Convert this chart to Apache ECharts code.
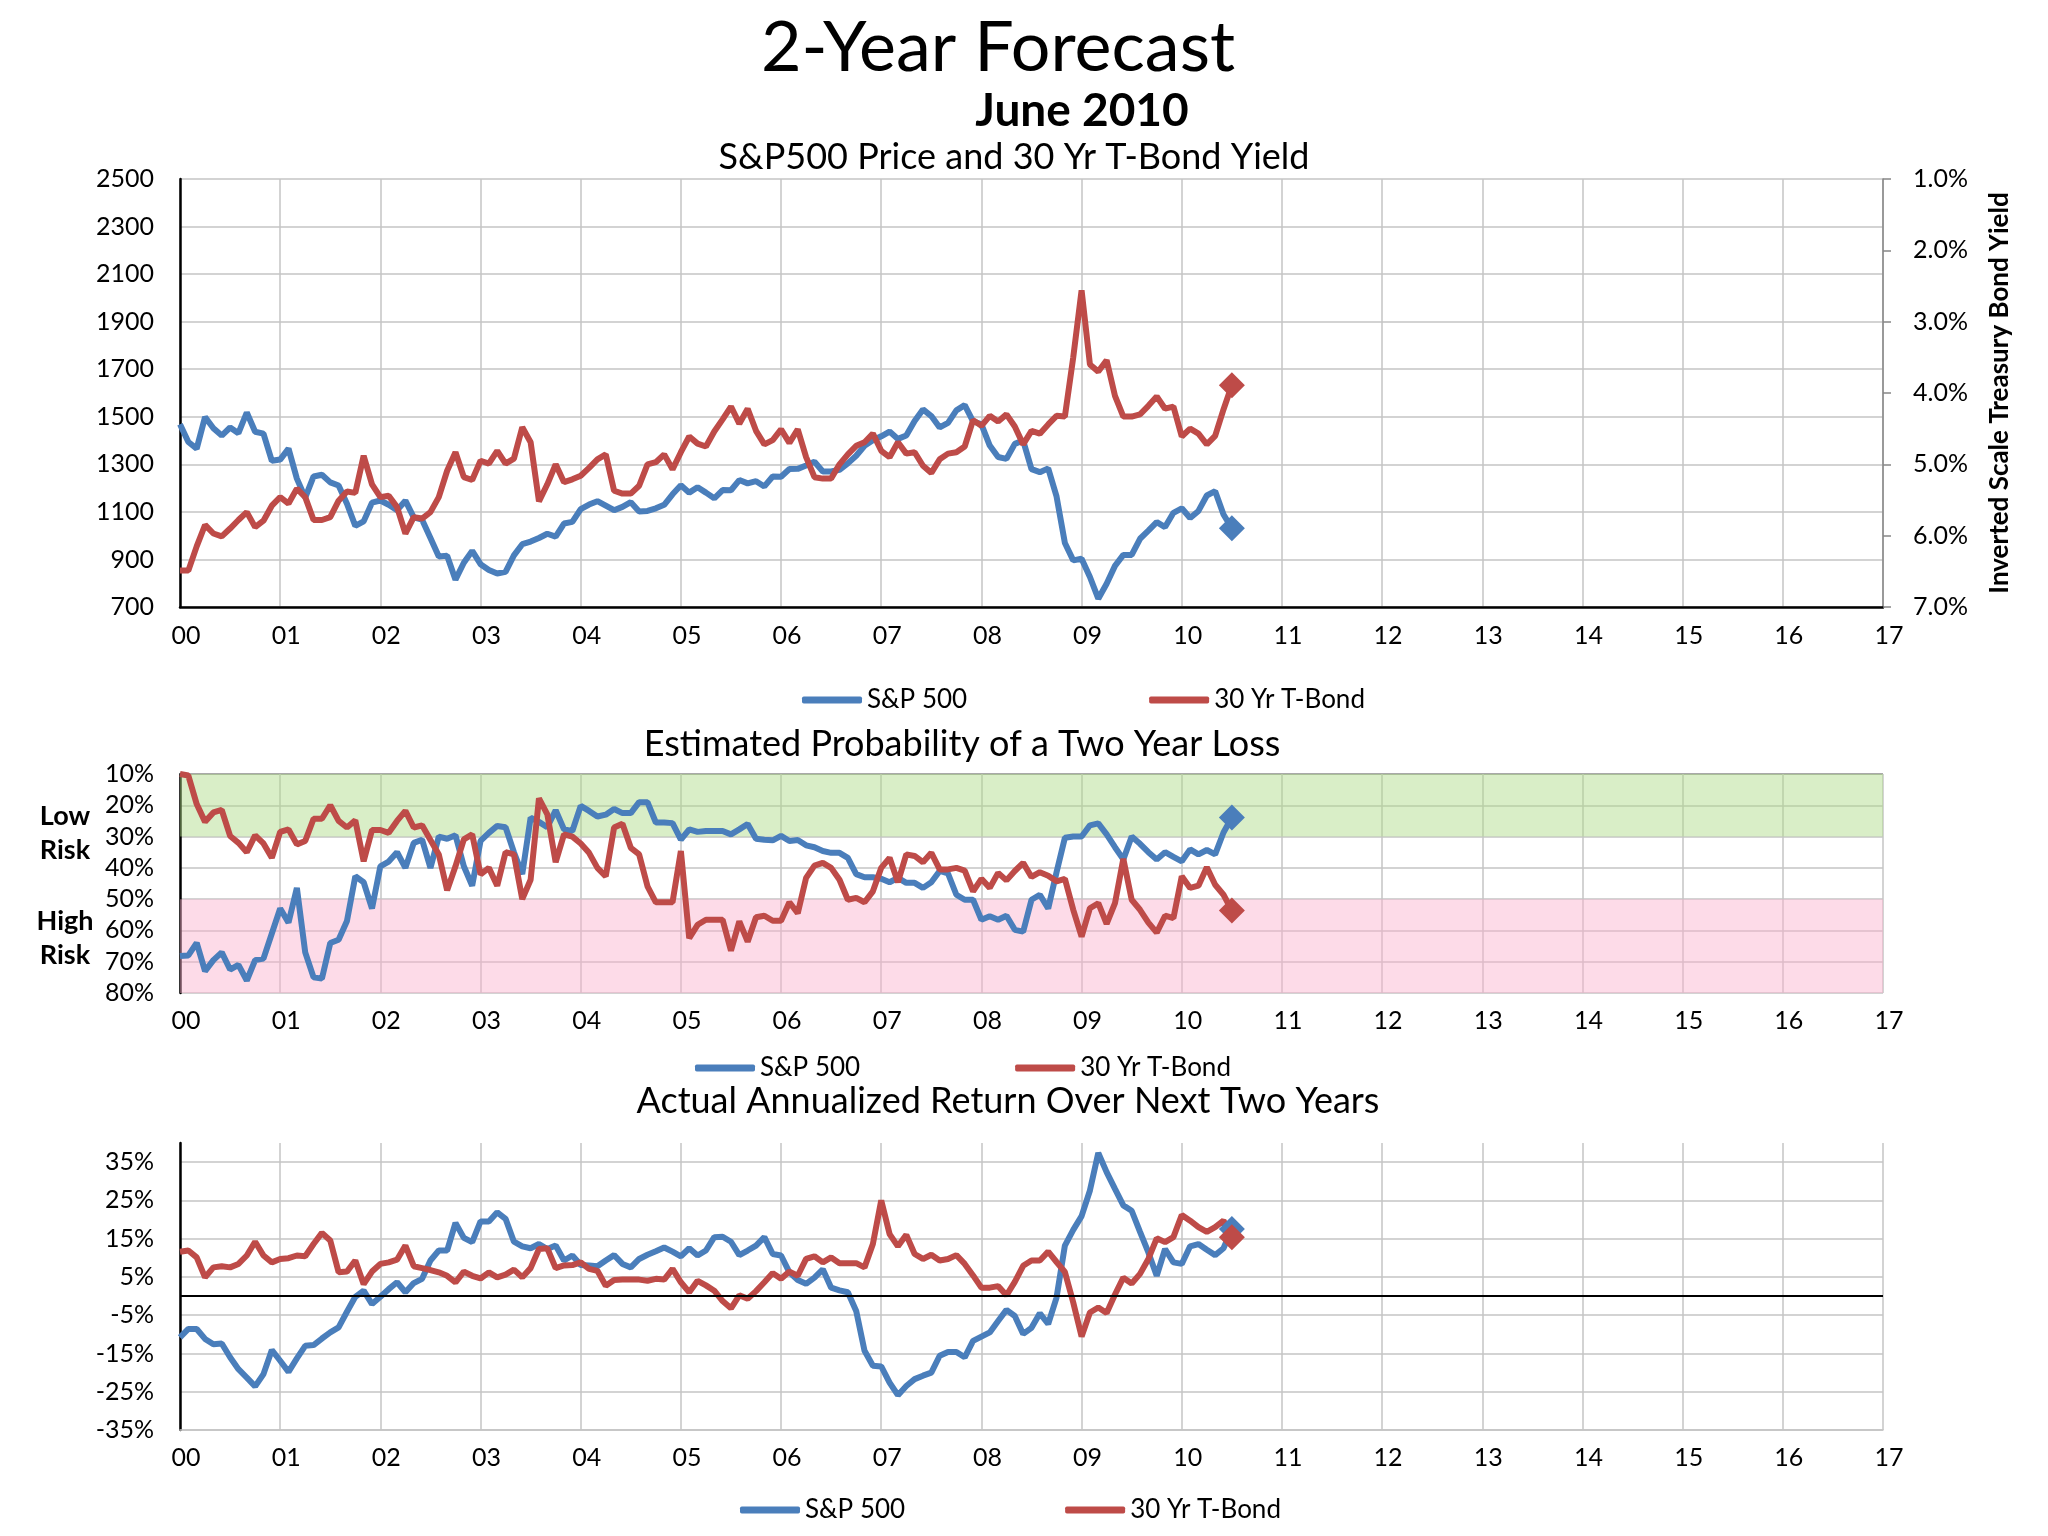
<!DOCTYPE html>
<html><head><meta charset="utf-8">
<script src="https://cdn.jsdelivr.net/npm/echarts@6/dist/echarts.min.js"></script>
<style>html,body{margin:0;padding:0;background:#fff}#c{width:2048px;height:1536px}</style>
</head><body><div id="c"></div>
<script>
// x tick labels (years 2000..2017)
const yearLabels = ['00','01','02','03','04','05','06','07','08','09','10','11','12','13','14','15','16','17'];
// monthly values, index 0 = start of 2000 (Dec-1999 close) ... index 126 = June 2010
const spxPrice = [1469,1394,1366,1499,1452,1421,1455,1431,1518,1437,1429,1315,1320,
1366,1240,1160,1249,1256,1224,1211,1134,1041,1060,1139,1148,
1130,1107,1147,1077,1067,990,912,916,815,886,936,880,
856,841,848,917,964,975,990,1008,996,1051,1058,1112,
1131,1145,1126,1107,1121,1141,1102,1104,1115,1130,1174,1212,
1181,1204,1181,1157,1192,1191,1234,1220,1229,1207,1249,1248,
1280,1281,1295,1311,1270,1270,1277,1304,1336,1378,1401,1418,
1438,1407,1421,1482,1531,1503,1455,1474,1527,1549,1481,1468,
1379,1331,1323,1386,1400,1280,1267,1283,1165,969,896,903,
826,735,798,873,919,919,987,1021,1057,1036,1096,1115,
1074,1104,1169,1187,1089,1031];
const bondYield = [6.49,6.49,6.15,5.85,5.97,6.01,5.90,5.78,5.67,5.88,5.79,5.58,5.46,
5.55,5.34,5.46,5.78,5.78,5.74,5.51,5.38,5.40,4.88,5.28,5.46,
5.44,5.60,5.97,5.74,5.76,5.67,5.46,5.09,4.83,5.18,5.22,4.95,
4.99,4.81,4.99,4.92,4.48,4.69,5.52,5.28,5.00,5.25,5.21,5.16,
5.05,4.93,4.86,5.37,5.41,5.41,5.30,5.00,4.97,4.86,5.07,4.83,
4.61,4.71,4.75,4.54,4.37,4.19,4.43,4.22,4.53,4.72,4.66,4.51,
4.70,4.51,4.90,5.18,5.20,5.20,5.00,4.86,4.74,4.69,4.57,4.81,
4.90,4.69,4.85,4.83,5.02,5.12,4.93,4.85,4.83,4.75,4.38,4.46,
4.32,4.40,4.30,4.47,4.72,4.53,4.57,4.44,4.32,4.33,3.50,2.56,
3.60,3.70,3.54,4.04,4.33,4.33,4.30,4.18,4.05,4.22,4.19,4.61,
4.50,4.57,4.72,4.60,4.23,3.89];
const spxLossProb = [68.2,68,64,73,69.5,67,72.5,71,76,69.5,69,61,53,
57.5,46.4,67,75,75.4,64,63,57,42.7,44.6,53,39.5,
38,35,40,32,31,40,30,30.7,29.6,39.5,45.7,31.4,
28.8,26.6,27,35,42,24,25.3,27,21.6,27.7,28.2,20.2,
21.8,23.6,23,21.2,22.5,22.5,19,19,25.5,25.5,25.7,31,
27.7,28.5,28.2,28.2,28.2,29.3,27.7,26,30.7,31,31.2,29.8,
31.4,31.1,32.8,33.4,34.6,35.2,35.2,36.8,42,43,43,43.5,
44.6,43.2,44.8,44.8,46.4,44.6,41,41.8,48.6,50.2,50.2,56.6,
55.5,56.6,55.3,59.8,60.4,50.2,48.6,53,41.4,30.4,30,30,
26.4,25.8,29.3,33.4,37.3,30,32.3,35,37.3,35,36.5,37.9,
34.1,35.7,34.3,35.7,28.7,23.9];
const bondLossProb = [10,10.5,19.6,25.3,22.3,21.5,29.8,32,35,29.6,32.2,36.8,28.5,
27.7,32.5,31.4,24.3,24.3,20,25,27.1,24.8,37.9,27.9,27.9,
28.8,25,21.8,27.1,26.4,31.1,35.7,47.2,39.5,30.9,29.3,42.1,
40,45.7,35,35.7,50,43.8,17.8,22.9,38.2,29.3,30,32.2,
35.2,40,42.7,27.1,25.9,33.6,35.7,45.9,51,51,51,34.6,
62.5,58.2,56.6,56.6,56.6,66.5,57.1,63.6,55.8,55.3,56.9,56.9,
51,54.5,43.2,39.3,38.4,40,43.8,50.2,49.6,51,47.5,40,
36.8,44.6,35.7,36.2,38.2,35.2,40.5,40.5,40,40.9,47.5,43.5,
46.4,41.6,44,41,38.4,42.9,41.4,42.5,44.3,43.5,53.4,62,
52.9,51.3,57.9,51.3,37.1,50.2,53.4,57.5,60.7,55.3,56.1,42.7,
46.4,45.7,39.8,45.4,48.6,53.6];
const spxReturn = [-10.8,-8.6,-8.6,-11.2,-12.6,-12.4,-16,-19.1,-21.3,-23.6,-20.4,-14.1,-16.9,
-19.8,-16.3,-13,-12.8,-11.1,-9.5,-8.2,-4.1,-0.2,1.4,-2.1,-0.2,
1.8,3.6,1,3.4,4.5,9.3,11.9,11.9,19.1,15.2,14.1,19.5,
19.5,21.9,20.2,14.2,13,12.5,13.6,12.3,13.2,9.3,10.6,8.1,
8,7.8,9.3,10.7,8.4,7.5,9.7,10.8,11.7,12.7,11.6,10.4,
12.5,10.6,11.9,15.4,15.5,14.2,10.7,11.9,13.2,15.4,11,10.6,
6.2,4.2,3.2,4.8,7,2.2,1.5,1,-3.9,-14.3,-18.2,-18.4,
-22.6,-25.9,-23.5,-21.7,-20.8,-20,-15.6,-14.6,-14.6,-16,-11.7,-10.6,
-9.5,-6.5,-3.6,-5.2,-9.9,-8.3,-4.5,-7.3,-0.4,13.2,17.3,20.9,
27.6,37.4,32.4,28,23.7,22.3,16.8,11.4,5.3,12.3,8.8,8.4,
13,13.6,12.1,10.7,12.5,17.5];
const bondReturn = [11.6,11.9,10.1,4.9,7.5,7.8,7.5,8.4,10.6,14.2,10.6,8.8,9.7,
9.9,10.6,10.4,13.6,16.5,14.5,6.2,6.4,9.3,3.1,6.4,8.4,
8.8,9.5,13.2,7.8,7.3,6.8,6.2,5.3,3.6,6.4,5.3,4.6,
6.2,4.9,5.6,6.9,4.9,7.3,12.3,12.5,7.3,8,8.1,8.8,
7.1,6.6,2.7,4.2,4.3,4.3,4.3,4,4.5,4.3,7.1,3.6,
1,4,2.8,1.4,-1.3,-3.2,0.2,-0.7,1.3,3.6,6,4.5,
6.4,5.3,9.7,10.4,8.8,10.1,8.6,8.6,8.6,7.5,13.6,25,
16.2,13,16,11,9.7,10.8,9.3,9.7,10.7,8.4,5.4,2.2,
2.2,2.6,0.2,3.7,7.9,9.3,9.3,11.6,8.9,6.3,-1.7,-10.6,
-4.3,-3,-4.4,0.4,4.8,3.3,5.8,9.7,15.1,14.1,15.4,21.2,
19.7,18,16.8,18,19.7,15.4];
const seriesNames = ['S&P 500', '30 Yr T-Bond'];

const FONT = 'Lato';
const BLUE = '#4a7ebb', RED = '#be4b48', GRID = '#c4c4c4';
const toPts = arr => arr.map((v, i) => [i / 12, v]);
const endDiamond = n => (val, p) => (p.dataIndex === n - 1 ? 26 : 0);

function line(name, arr, color, xi, yi, extra) {
  return Object.assign({
    type: 'line', name: name, xAxisIndex: xi, yAxisIndex: yi,
    data: toPts(arr), showSymbol: true, showAllSymbol: true,
    symbol: 'diamond', symbolSize: endDiamond(arr.length),
    lineStyle: { color: color, width: 6 }, itemStyle: { color: color },
    emphasis: { disabled: true }, animation: false
  }, extra || {});
}

function xAxis(gi, margin, axisLine) {
  return {
    type: 'value', gridIndex: gi, min: 0, max: 17, interval: 1,
    axisLabel: { formatter: v => yearLabels[Math.round(v)], fontFamily: FONT, fontSize: 25, color: '#000', margin: margin, padding: [0, 0, 0, 12] },
    axisTick: { show: false },
    axisLine: axisLine,
    splitLine: { show: true, lineStyle: { color: GRID, width: 1.5 } }
  };
}
const yLab = { fontFamily: FONT, fontSize: 25, color: '#000', margin: 26 };

const legendBase = { icon: 'roundRect', itemWidth: 60, itemHeight: 7, textStyle: { fontFamily: FONT, fontSize: 26, color: '#000' }, data: seriesNames, selectedMode: false };
const titleStyle = { fontFamily: FONT, fontSize: 36, fontWeight: 'normal', color: '#000' };

const option = {
  backgroundColor: '#fff',
  animation: false,
  title: [
    { text: '2-Year Forecast', left: 993, top: 8, textAlign: 'center', textStyle: { fontFamily: FONT, fontSize: 70, fontWeight: 'normal', color: '#000' } },
    { text: 'June 2010', left: 1077, top: 83, textAlign: 'center', textStyle: { fontFamily: FONT, fontSize: 46, fontWeight: 'bold', color: '#000' } },
    { text: 'S&P500 Price and 30 Yr T-Bond Yield', left: 1009, top: 134, textAlign: 'center', textStyle: titleStyle },
    { text: 'Estimated Probability of a Two Year Loss', left: 957, top: 721, textAlign: 'center', textStyle: titleStyle },
    { text: 'Actual Annualized Return Over Next Two Years', left: 1003, top: 1078, textAlign: 'center', textStyle: titleStyle }
  ],
  legend: [
    Object.assign({ left: 797, top: 682, itemGap: 182 }, legendBase),
    Object.assign({ left: 690, top: 1050, itemGap: 155 }, legendBase),
    Object.assign({ left: 735, top: 1492, itemGap: 160 }, legendBase)
  ],
  grid: [
    { left: 180, right: 165, top: 179, height: 428 },
    { left: 180, right: 165, top: 774, height: 219 },
    { left: 180, right: 165, top: 1143, height: 287 }
  ],
  xAxis: [
    xAxis(0, 16, { show: true, onZero: false, lineStyle: { color: '#000', width: 2.5 } }),
    xAxis(1, 15, { show: false }),
    xAxis(2, 15, { show: true, onZero: false, lineStyle: { color: GRID, width: 1.5 } })
  ],
  yAxis: [
    { type: 'value', gridIndex: 0, min: 700, max: 2500, interval: 200,
      axisLabel: Object.assign({}, yLab, { formatter: v => String(v) }), axisTick: { show: false },
      axisLine: { show: true, lineStyle: { color: '#000', width: 2.5 } },
      splitLine: { show: true, lineStyle: { color: GRID, width: 1.5 } } },
    { type: 'value', gridIndex: 0, position: 'right', min: 1, max: 7, interval: 1, inverse: true,
      axisLabel: Object.assign({}, yLab, { margin: 30, formatter: v => v.toFixed(1) + '%' }),
      axisTick: { show: true, length: 8, lineStyle: { color: '#868686', width: 1.5 } },
      axisLine: { show: true, lineStyle: { color: '#868686', width: 1.5 } },
      splitLine: { show: false },
      name: 'Inverted Scale Treasury Bond Yield', nameLocation: 'middle', nameGap: 104, nameRotate: 90,
      nameTextStyle: { fontFamily: FONT, fontSize: 26, fontWeight: 'bold', color: '#000' } },
    { type: 'value', gridIndex: 1, min: 10, max: 80, interval: 10, inverse: true,
      axisLabel: Object.assign({}, yLab, { formatter: v => v + '%' }), axisTick: { show: false },
      axisLine: { show: true, lineStyle: { color: '#000', width: 2.5 } },
      splitLine: { show: true, lineStyle: { color: ['#8c8c8c', GRID, GRID, GRID, GRID, GRID, GRID, GRID], width: 1.5 } } },
    { type: 'value', gridIndex: 2, min: -35, max: 40, interval: 10,
      axisLabel: Object.assign({}, yLab, { formatter: v => (v > 35 ? '' : v + '%') }), axisTick: { show: false },
      axisLine: { show: true, lineStyle: { color: '#000', width: 2.5 } },
      splitLine: { show: true, lineStyle: { color: [GRID, GRID, GRID, GRID, GRID, GRID, GRID, GRID, 'rgba(0,0,0,0)'], width: 1.5 } } }
  ],
  graphic: [
    { type: 'text', x: 65, y: 816, style: { text: 'Low', fontFamily: FONT, fontSize: 27, fontWeight: 'bold', fill: '#000', textAlign: 'center', textVerticalAlign: 'middle' } },
    { type: 'text', x: 65, y: 850, style: { text: 'Risk', fontFamily: FONT, fontSize: 27, fontWeight: 'bold', fill: '#000', textAlign: 'center', textVerticalAlign: 'middle' } },
    { type: 'text', x: 65, y: 921, style: { text: 'High', fontFamily: FONT, fontSize: 27, fontWeight: 'bold', fill: '#000', textAlign: 'center', textVerticalAlign: 'middle' } },
    { type: 'text', x: 65, y: 955, style: { text: 'Risk', fontFamily: FONT, fontSize: 27, fontWeight: 'bold', fill: '#000', textAlign: 'center', textVerticalAlign: 'middle' } }
  ],
  series: [
    line(seriesNames[0], spxPrice, BLUE, 0, 0),
    line(seriesNames[1], bondYield, RED, 0, 1),
    line(seriesNames[0], spxLossProb, BLUE, 1, 2, {
      markArea: { silent: true, data: [
        [{ yAxis: 10, itemStyle: { color: 'rgba(170,218,130,0.45)' } }, { yAxis: 30 }],
        [{ yAxis: 50, itemStyle: { color: 'rgba(250,175,205,0.45)' } }, { yAxis: 80 }]
      ] } }),
    line(seriesNames[1], bondLossProb, RED, 1, 2),
    line(seriesNames[0], spxReturn, BLUE, 2, 3, {
      markLine: { silent: true, symbol: 'none', label: { show: false }, lineStyle: { color: '#000', width: 2, type: 'solid' }, data: [{ yAxis: 0 }] } }),
    line(seriesNames[1], bondReturn, RED, 2, 3)
  ]
};
echarts.init(document.getElementById('c')).setOption(option);
</script>
</body></html>
